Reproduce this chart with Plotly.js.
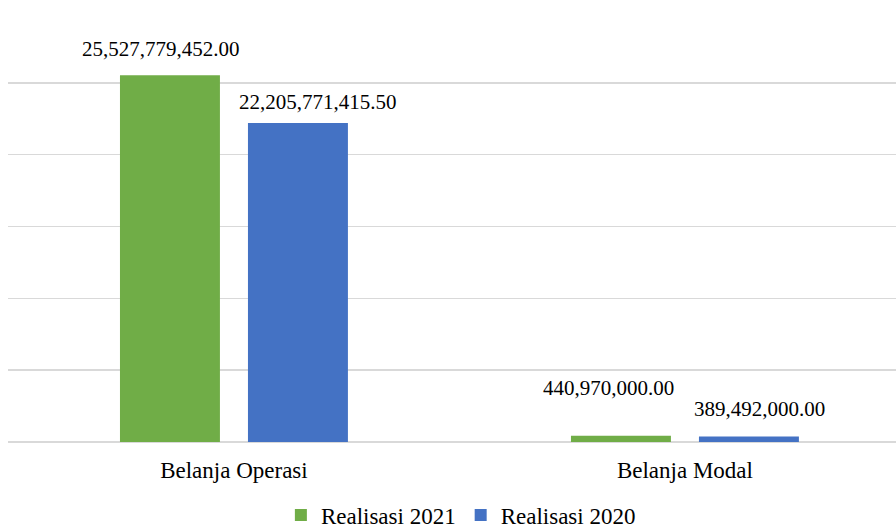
<!DOCTYPE html>
<html>
<head>
<meta charset="utf-8">
<script src="https://cdn.plot.ly/plotly-3.0.1.min.js"></script>
<style>html,body{margin:0;padding:0;background:#fff;}#chart{width:896px;height:531px;}</style>
</head>
<body>
<div id="chart"></div>
<script>
const categories = ["Belanja Operasi", "Belanja Modal"];
const seriesNames = ["Realisasi 2021", "Realisasi 2020"];
const realisasi2021 = [25527779452.00, 440970000.00];
const realisasi2020 = [22205771415.50, 389492000.00];
const labels2021 = ["25,527,779,452.00", "440,970,000.00"];
const labels2020 = ["22,205,771,415.50", "389,492,000.00"];

const colors = ["#70AD47", "#4472C4"];
const font = "Liberation Serif, Times New Roman, serif";

const traces = [
  {type: "bar", name: seriesNames[0], x: categories, y: realisasi2021, marker: {color: colors[0]}, hoverinfo: "none"},
  {type: "bar", name: seriesNames[1], x: categories, y: realisasi2020, marker: {color: colors[1]}, hoverinfo: "none"}
];

// label offsets (pixels) relative to each category centre / bar top
const shifts2021 = [[-73, 26], [-76, 48]];
const shifts2020 = [[84, 21], [75, 27]];
const annotations = [];
categories.forEach((c, i) => {
  annotations.push({x: c, y: realisasi2021[i], xref: "x", yref: "y", text: labels2021[i], showarrow: false,
    xanchor: "center", yanchor: "middle", xshift: shifts2021[i][0], yshift: shifts2021[i][1],
    font: {family: font, size: 21, color: "#000"}});
  annotations.push({x: c, y: realisasi2020[i], xref: "x", yref: "y", text: labels2020[i], showarrow: false,
    xanchor: "center", yanchor: "middle", xshift: shifts2020[i][0], yshift: shifts2020[i][1],
    font: {family: font, size: 21, color: "#000"}});
});

const layout = {
  width: 896, height: 531,
  margin: {l: 8, r: 0, t: 11, b: 89, pad: 0, autoexpand: false},
  paper_bgcolor: "#fff", plot_bgcolor: "#fff",
  barmode: "group", bargap: 0.4324, bargroupgap: 0.219,
  font: {family: font, color: "#000"},
  xaxis: {range: [-0.501, 1.468], showgrid: false, zeroline: false, showline: false,
    ticks: "", ticklabelstandoff: 12, tickfont: {family: font, size: 23, color: "#000"}, fixedrange: true},
  yaxis: {range: [0, 30e9], dtick: 5e9, tick0: 0, showticklabels: false, showgrid: true,
    gridcolor: "#d9d9d9", gridwidth: 1.5, zeroline: true, zerolinecolor: "#d9d9d9", zerolinewidth: 1.5, fixedrange: true},
  showlegend: true,
  legend: {orientation: "h", x: 0.51, xanchor: "center", yref: "container", y: 0.03, yanchor: "middle",
    font: {family: font, size: 23, color: "#000"}, itemwidth: 30, tracegroupgap: 0},
  annotations: annotations
};

Plotly.newPlot("chart", traces, layout, {displayModeBar: false, staticPlot: true});
</script>
</body>
</html>
